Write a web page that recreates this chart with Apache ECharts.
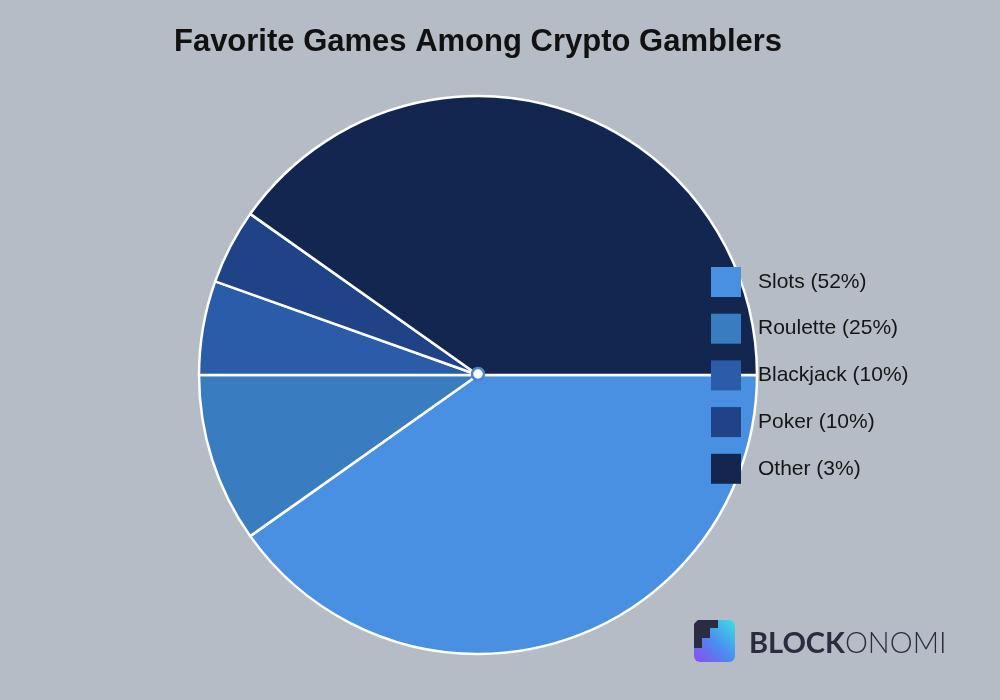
<!DOCTYPE html>
<html>
<head>
<meta charset="utf-8">
<script src="https://cdn.jsdelivr.net/npm/echarts@6/dist/echarts.min.js"></script>
<style>
html,body{margin:0;padding:0;background:#b5bcc6;}
#chart{width:1000px;height:700px;}
</style>
</head>
<body>
<div id="chart"></div>
<script>
// Data
const categories = ['Slots', 'Roulette', 'Blackjack', 'Poker', 'Other'];
const legendPercents = [52, 25, 10, 10, 3];           // as printed in the legend
const sliceValues = [40.2, 9.8, 5.45, 4.35, 40.2];   // slice sizes as drawn
const sliceColors = ['#4a90e2', '#3a7cc0', '#2b5caa', '#1f4386', '#12264f'];

const chart = echarts.init(document.getElementById('chart'));
const pctMap = {};
categories.forEach((c, i) => pctMap[c] = legendPercents[i]);

const option = {
  backgroundColor: '#b5bcc6',
  animation: false,
  title: {
    text: 'Favorite Games Among Crypto Gamblers',
    left: 473,
    textAlign: 'center',
    top: 22,
    textStyle: {
      fontFamily: 'Liberation Sans, Arial, sans-serif',
      fontWeight: 'bold',
      fontSize: 31,
      color: '#111111'
    }
  },
  legend: {
    data: categories,
    orient: 'vertical',
    left: 711,
    top: 267,
    padding: 0,
    itemWidth: 30,
    itemHeight: 30,
    itemGap: 16.7,
    icon: 'rect',
    itemStyle: { borderWidth: 0 },
    formatter: name => name + ' (' + pctMap[name] + '%)',
    textStyle: {
      fontFamily: 'Liberation Sans, Arial, sans-serif',
      fontSize: 21,
      color: '#151515',
      padding: [0, 0, 0, 12]
    },
    selectedMode: false
  },
  series: [
    {
      type: 'pie',
      center: [478, 375],
      radius: 279,
      startAngle: 0,
      clockwise: true,
      label: { show: false },
      labelLine: { show: false },
      silent: true,
      itemStyle: { borderColor: '#ffffff', borderWidth: 2.5 },
      data: categories.map((c, i) => ({
        name: c,
        value: sliceValues[i],
        itemStyle: { color: sliceColors[i] }
      }))
    },
    {
      type: 'pie',
      center: [478, 374],
      radius: 6,
      silent: true,
      label: { show: false },
      labelLine: { show: false },
      itemStyle: { color: '#ffffff', borderColor: '#4a86cc', borderWidth: 2.5 },
      data: [{ name: 'center', value: 1 }],
      z: 5
    }
  ],
  graphic: [
    {
      type: 'rect',
      left: 694, top: 620,
      shape: { width: 41, height: 42, r: 6 },
      style: {
        fill: new echarts.graphic.LinearGradient(0, 1, 1, 0, [
          { offset: 0, color: '#8a4cf0' },
          { offset: 0.5, color: '#4a8ef0' },
          { offset: 1, color: '#3ee0e0' }
        ])
      }
    },
    {
      type: 'polygon',
      shape: { points: [[694, 624], [698, 620], [718, 620], [718, 628], [710, 628], [710, 638], [702, 638], [702, 648], [694, 648]] },
      style: { fill: '#2b2b44' }
    },
    {
      type: 'text',
      left: 749, top: 629,
      style: {
        text: '{b|BLOCK}{l|ONOMI}',
        rich: {
          b: { fontFamily: 'Lato, Liberation Sans, sans-serif', fontWeight: 'bold', fontSize: 29, fill: '#2a2c40' },
          l: { fontFamily: 'Lato, Liberation Sans, sans-serif', fontWeight: 300, fontSize: 29, fill: '#2a2c40' }
        }
      }
    }
  ]
};
chart.setOption(option);
</script>
</body>
</html>
